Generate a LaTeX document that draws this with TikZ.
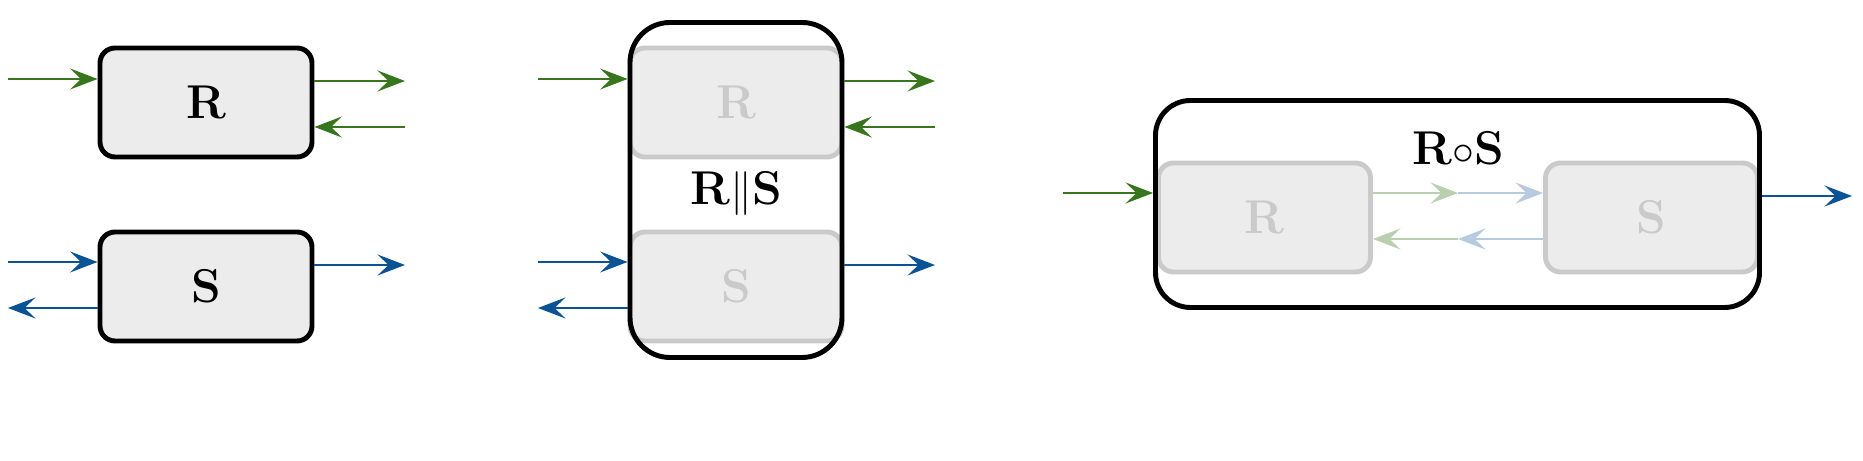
\documentclass[tikz,border=0pt]{standalone}
\usepackage{amsmath,amssymb}
\usetikzlibrary{arrows.meta,positioning,calc}
\definecolor{grn}{RGB}{56,118,29}
\definecolor{blu}{RGB}{11,83,148}
\definecolor{ghostfill}{RGB}{236,236,236}
\definecolor{ghostline}{RGB}{202,202,202}

\begin{document}
\begin{tikzpicture}[
    blk/.style={draw, rounded corners=0.3cm, minimum width=4.24cm, minimum height=2.18cm, inner sep=0pt, fill=ghostfill, line width=2.8pt, font=\fontsize{27}{31}\selectfont\bfseries, text=black},
    ghost/.style={blk, draw=ghostline, text=ghostline},
    outer/.style={draw, line width=2.8pt, inner sep=0pt},
    lbl/.style={font=\fontsize{27}{31}\selectfont\bfseries, text=black},
    garr/.style={-{Stealth[length=5.5mm, width=4.2mm, inset=2.2mm]}, line width=1.3pt, grn},
    barr/.style={-{Stealth[length=5.5mm, width=4.2mm, inset=2.2mm]}, line width=1.3pt, blu},
    gfaint/.style={garr, draw=grn!35, fill=grn!35},
    bfaint/.style={barr, draw=blu!30, fill=blu!30},
]
\useasboundingbox (0,0) rectangle (37.26,9.22);

% Left: R and S on their own
\node[blk] (rA) at (4.12,7.17) {R};
\node[blk] (sA) at (4.12,3.49) {S};
\coordinate (rAin) at (0.16,7.64);
\coordinate (rAout) at (8.10,7.60);
\coordinate (rAback) at (8.10,6.68);
\coordinate (sAin) at (0.16,3.98);
\coordinate (sAback) at (0.16,3.06);
\coordinate (sAout) at (8.10,3.92);
\draw[garr] (rAin) -- (rAin -| rA.west);
\draw[garr] (rAout -| rA.east) -- (rAout);
\draw[garr] (rAback) -- (rAback -| rA.east);
\draw[barr] (sAin) -- (sAin -| sA.west);
\draw[barr] (sAback -| sA.west) -- (sAback);
\draw[barr] (sAout -| sA.east) -- (sAout);

% Center: parallel R||S
\node[ghost] (rB) at (14.72,7.17) {R};
\node[ghost] (sB) at (14.72,3.49) {S};
\node[outer, rounded corners=0.8cm, minimum width=4.24cm, minimum height=6.7cm] (par) at (14.72,5.42) {};
\node[lbl] (parlbl) at (14.72,5.36) {R$\|$S};
\coordinate (rBin) at (10.76,7.64);
\coordinate (rBout) at (18.70,7.60);
\coordinate (rBback) at (18.70,6.68);
\coordinate (sBin) at (10.76,3.98);
\coordinate (sBback) at (10.76,3.06);
\coordinate (sBout) at (18.70,3.92);
\draw[garr] (rBin) -- (rBin -| par.west);
\draw[garr] (rBout -| par.east) -- (rBout);
\draw[garr] (rBback) -- (rBback -| par.east);
\draw[barr] (sBin) -- (sBin -| par.west);
\draw[barr] (sBback -| par.west) -- (sBback);
\draw[barr] (sBout -| par.east) -- (sBout);

% Right: sequential R o S
\node[ghost] (rC) at (25.29,4.87) {R};
\node[ghost] (sC) at (33.03,4.87) {S};
\node[outer, rounded corners=0.7cm, minimum width=12.08cm, minimum height=4.14cm] (seq) at (29.15,5.14) {};
\node[lbl] (seqlbl) at (29.16,6.26) {R$\circ$S};
\coordinate (midup) at (29.16,5.36);
\coordinate (middn) at (29.16,4.44);
\draw[bfaint] (midup) -- (midup -| sC.west);
\draw[gfaint] (midup -| rC.east) -- (midup);
\draw[gfaint] (middn) -- (middn -| rC.east);
\draw[bfaint] (middn -| sC.west) -- (middn);
\coordinate (seqin) at (21.26,5.36);
\coordinate (seqout) at (37.04,5.30);
\draw[garr] (seqin) -- (seqin -| seq.west);
\draw[barr] (seqout -| seq.east) -- (seqout);
\end{tikzpicture}
\end{document}
